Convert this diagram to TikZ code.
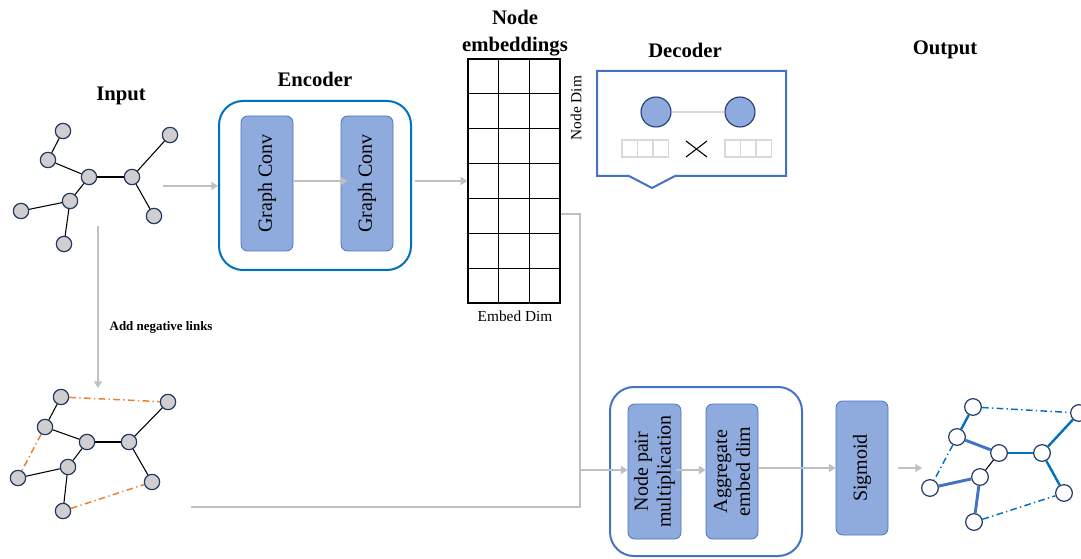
\documentclass[tikz,border=0pt]{standalone}
\usepackage{fontspec}
\setmainfont{Liberation Serif}
\usetikzlibrary{arrows.meta,calc}
\definecolor{arrgray}{HTML}{C0C0C0}
\definecolor{boxfill}{HTML}{8FAADC}
\definecolor{boxline}{HTML}{4472C4}
\definecolor{encblue}{HTML}{0070C0}
\definecolor{decblue}{HTML}{4472C4}
\definecolor{navy}{HTML}{203864}
\definecolor{nodegray}{HTML}{D0CECE}
\definecolor{negorange}{HTML}{ED7D31}
\definecolor{sqgray}{HTML}{D9D9D9}
\begin{document}
\begin{tikzpicture}[x=0.75pt,y=-0.75pt,
  gnode/.style={circle, draw=navy, fill=nodegray, line width=0.9pt, minimum size=11.5pt, inner sep=0pt},
  onode/.style={circle, draw=navy, fill=white, line width=0.9pt, minimum size=12.5pt, inner sep=0pt},
  dnode/.style={circle, draw=navy, fill=boxfill, line width=0.8pt, minimum size=22.5pt, inner sep=0pt},
  gedge/.style={draw=black, line width=0.8pt},
  negedge/.style={draw=negorange, line width=1.1pt, dash pattern=on 5pt off 2.5pt on 1pt off 2.5pt},
  posedge/.style={draw=encblue, line width=1.8pt},
  posedgeb/.style={draw=decblue, line width=2.2pt},
  predneg/.style={draw=encblue, line width=1.1pt, dash pattern=on 5pt off 2.5pt on 1pt off 2.5pt},
  blk/.style={rectangle, rounded corners=5pt, draw=boxline, fill=boxfill, line width=0.6pt, rotate=90,
              font=\fontsize{15}{17}\selectfont, align=center, inner sep=0pt},
  outerbox/.style={rectangle, rounded corners=18pt, line width=1.5pt, inner sep=0pt},
  arr/.style={draw=arrgray, line width=1.6pt, -{Triangle[width=6pt,length=5pt]}},
  gline/.style={draw=arrgray, line width=1.6pt},
  title/.style={font=\bfseries\fontsize{15.5}{20}\selectfont, align=center},
  sq/.style={draw=sqgray, line width=1.1pt}
]
\useasboundingbox (0,0) rectangle (1081,559);

% ---------- titles ----------
\node[title] (tin) at (121,96) {Input};
\node[title] (tenc) at (315,79) {Encoder};
\node[title] (temb) at (515,33) {Node\\embeddings};
\node[title] (tdec) at (685,50) {Decoder};
\node[title] (tout) at (945,50) {Output};

% ---------- input graph ----------
\node[gnode] (a1) at (63,131) {};
\node[gnode] (a2) at (48,160) {};
\node[gnode] (a3) at (89,177) {};
\node[gnode] (a4) at (132,177) {};
\node[gnode] (a5) at (170,135) {};
\node[gnode] (a6) at (154,216) {};
\node[gnode] (a7) at (70,201) {};
\node[gnode] (a8) at (21,211) {};
\node[gnode] (a9) at (64,244) {};
\draw[gedge] (a1) -- (a2);
\draw[gedge] (a2) -- (a3);
\draw[gedge] (a3) -- (a4);
\draw[gedge] (a4) -- (a5);
\draw[gedge] (a4) -- (a6);
\draw[gedge] (a3) -- (a7);
\draw[gedge] (a7) -- (a8);
\draw[gedge] (a7) -- (a9);

% ---------- negative-sampled graph ----------
\node[gnode] (m1) at (61,397) {};
\node[gnode] (m2) at (45,427) {};
\node[gnode] (m3) at (87,442) {};
\node[gnode] (m4) at (129,442) {};
\node[gnode] (m5) at (168,402) {};
\node[gnode] (m6) at (152,482) {};
\node[gnode] (m7) at (68,467) {};
\node[gnode] (m8) at (18,478) {};
\node[gnode] (m9) at (63,511) {};
\draw[gedge] (m1) -- (m2);
\draw[gedge] (m2) -- (m3);
\draw[gedge] (m3) -- (m4);
\draw[gedge] (m4) -- (m5);
\draw[gedge] (m4) -- (m6);
\draw[gedge] (m3) -- (m7);
\draw[gedge] (m7) -- (m8);
\draw[gedge] (m7) -- (m9);
\draw[negedge] (m1) -- (m5);
\draw[negedge] (m2) -- (m8);
\draw[negedge] (m9) -- (m6);

% ---------- output graph ----------
\node[onode] (o1) at (973,407) {};
\node[onode] (o2) at (957,437) {};
\node[onode] (o3) at (999,453) {};
\node[onode] (o4) at (1042,453) {};
\node[onode] (o5) at (1079,413) {};
\node[onode] (o6) at (1064,493) {};
\node[onode] (o7) at (980,477) {};
\node[onode] (o8) at (930,488) {};
\node[onode] (o9) at (974,522) {};
\draw[posedge] (o1) -- (o2);
\draw[posedgeb] (o2) -- (o3);
\draw[posedge] (o3) -- (o4);
\draw[posedge] (o4) -- (o5);
\draw[posedge] (o4) -- (o6);
\draw[gedge] (o3) -- (o7);
\draw[posedgeb] (o7) -- (o8);
\draw[posedgeb] (o7) -- (o9);
\draw[predneg] (o1) -- (o5);
\draw[predneg] (o2) -- (o8);
\draw[predneg] (o9) -- (o6);

% ---------- encoder ----------
\node[outerbox, draw=encblue, minimum width=144pt, minimum height=126.75pt] (enc) at (315,185.5) {};
\node[blk, minimum width=101.25pt, minimum height=39pt] (gc1) at (267,183.5) {Graph Conv};
\node[blk, minimum width=101.25pt, minimum height=39pt] (gc2) at (367,183.5) {Graph Conv};

% ---------- embeddings grid ----------
\node[draw=black, line width=1pt, minimum width=69pt, minimum height=183pt, inner sep=0pt] (emb) at (514,181) {};
\foreach \k in {1,2} {
  \draw[line width=1pt] ($(emb.north west)!\k/3!(emb.north east)$) -- ($(emb.south west)!\k/3!(emb.south east)$);
}
\foreach \k in {1,...,6} {
  \draw[line width=1pt] ($(emb.north west)!\k/7!(emb.south west)$) -- ($(emb.north east)!\k/7!(emb.south east)$);
}
\node[rotate=90, font=\fontsize{11.5}{13}\selectfont] (ndim) at (576,108) {Node Dim};
\node[font=\fontsize{11.5}{13}\selectfont] (edim) at (515,316) {Embed Dim};

% ---------- decoder callout ----------
\draw[draw=decblue, line width=1.5pt] (597,71) -- (786,71) -- (786,176) -- (675,176) -- (652,188) -- (629,176) -- (597,176) -- cycle;
\node[dnode] (d1) at (656,112) {};
\node[dnode] (d2) at (740,112) {};
\draw[draw=sqgray, line width=2pt] (d1) -- (d2);
\foreach \x in {622,637.5,653} { \draw[sq] (\x,140) rectangle ++(15.3,17); }
\foreach \x in {725,740.5,756} { \draw[sq] (\x,140) rectangle ++(15.3,17); }
\draw[line width=0.8pt] (686,141) -- (707,157);
\draw[line width=0.8pt] (686,157) -- (707,141);

% ---------- bottom decoder ----------
\node[outerbox, draw=decblue, minimum width=144pt, minimum height=126.75pt] (dbox) at (706,471.5) {};
\node[blk, minimum width=101.25pt, minimum height=39.75pt] (np) at (654.5,471.5) {Node pair\\multiplication};
\node[blk, minimum width=101.25pt, minimum height=39pt] (agg) at (732,471.5) {Aggregate\\embed dim};
\node[blk, minimum width=100.5pt, minimum height=39pt] (sig) at (862,468) {Sigmoid};

% ---------- connectors ----------
\coordinate (inS) at (163,186);
\coordinate (negS) at (98,226);
\coordinate (negE) at (98,388);
\coordinate (bl) at (191,507);
\coordinate (cornerB) at (580,507);
\coordinate (cornerT) at (580,214);
\coordinate (branch) at (580,470);
\coordinate (sigS) at (898,468);
\coordinate (outE) at (922,468);

\draw[arr] (inS) -- (enc.west |- inS);
\draw[arr] (gc1.south |- 0,181) -- ([xshift=5pt]gc2.north |- 0,181);
\draw[arr] ([xshift=2pt]enc.east |- 0,181) -- (emb.west |- 0,181);
\draw[arr] (negS) -- (negE);
\node[font=\bfseries\fontsize{9.7}{11}\selectfont, anchor=west] (neglab) at (105,327) {Add negative links};
\draw[gline] (emb.east |- cornerT) -- (cornerT) -- (cornerB) -- (bl);
\draw[arr] (branch) -- (np.north |- branch);
\draw[arr] ([xshift=-4pt]np.south |- branch) -- (agg.north |- branch);
\draw[arr] (agg.south |- sigS) -- (sig.north |- sigS);
\draw[arr] (sigS) -- (outE);
\end{tikzpicture}
\end{document}
